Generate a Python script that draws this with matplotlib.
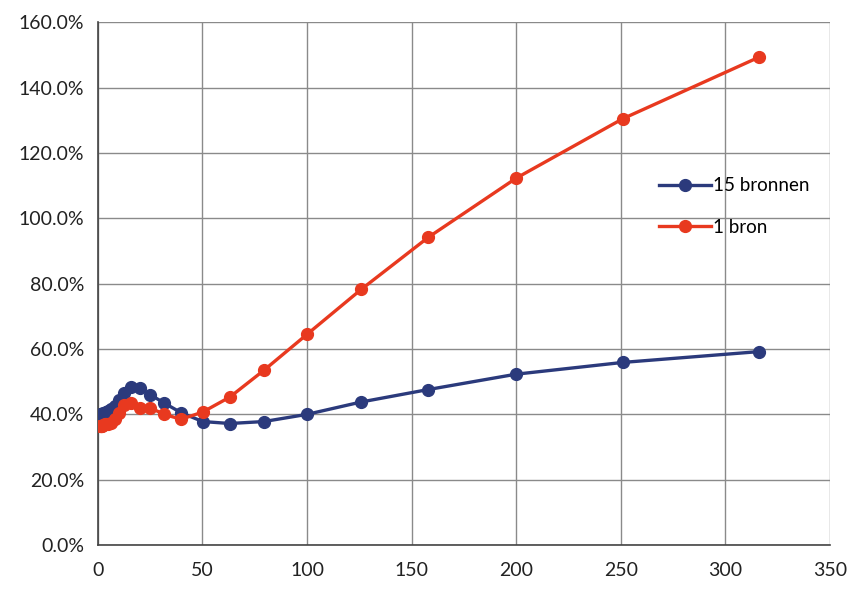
import matplotlib.pyplot as plt
from matplotlib.ticker import FuncFormatter

# x values (log spaced)
x = [1, 1.26, 1.58, 2, 2.51, 3.16, 3.98, 5.01, 6.31, 7.94, 10, 12.6, 15.8, 20,
     25.1, 31.6, 39.8, 50.1, 63.1, 79.4, 100, 126, 158, 200, 251, 316]

bronnen15 = [39.5, 40, 40, 40, 40.5, 40.5, 40.8, 41, 41.5, 42.5, 44.5, 46.5, 48.5, 48,
             46, 43.5, 40.5, 37.8, 37.2, 37.8, 40, 43.8, 47.6, 52.3, 55.9, 59.2]
bron1 = [36.5, 36.5, 36.5, 36.5, 36.8, 37, 37, 37.2, 37.5, 38.5, 40.5, 43, 43.5, 42,
         42, 40, 38.5, 40.7, 45.3, 53.5, 64.5, 78.3, 94.2, 112.3, 130.5, 149.3]

blue = "#2b3a7c"
red = "#e8391f"

plt.rcParams['font.family'] = ['Lato', 'DejaVu Sans']

fig = plt.figure(figsize=(8.59, 5.98), dpi=100)
ax = fig.add_axes([0.114, 0.0886, 0.852, 0.874])

ax.plot(x, bronnen15, color=blue, lw=2.4, marker="o", ms=8.5, label="15 bronnen", zorder=3)
ax.plot(x, bron1, color=red, lw=2.4, marker="o", ms=8.5, label="1 bron", zorder=4)

ax.set_xlim(0, 350)
ax.set_ylim(0, 160)
ax.set_xticks(range(0, 351, 50))
ax.set_yticks(range(0, 161, 20))
ax.yaxis.set_major_formatter(FuncFormatter(lambda v, p: f"{v:.1f}%"))
ax.grid(True, color="#8a8a8a", lw=1)
ax.set_axisbelow(True)
ax.tick_params(length=0, labelsize=14, colors="#222222", pad=12)
ax.tick_params(axis="y", pad=10)

for s in ["top", "right"]:
    ax.spines[s].set_visible(False)
for s in ["left", "bottom"]:
    ax.spines[s].set_color("#444444")
    ax.spines[s].set_linewidth(1.2)

ax.legend(loc="upper left", bbox_to_anchor=(0.743, 0.736), frameon=False,
          fontsize=13.5, handlelength=2.8, labelspacing=1.3, handletextpad=0.1)

plt.savefig("out.png", dpi=100)
